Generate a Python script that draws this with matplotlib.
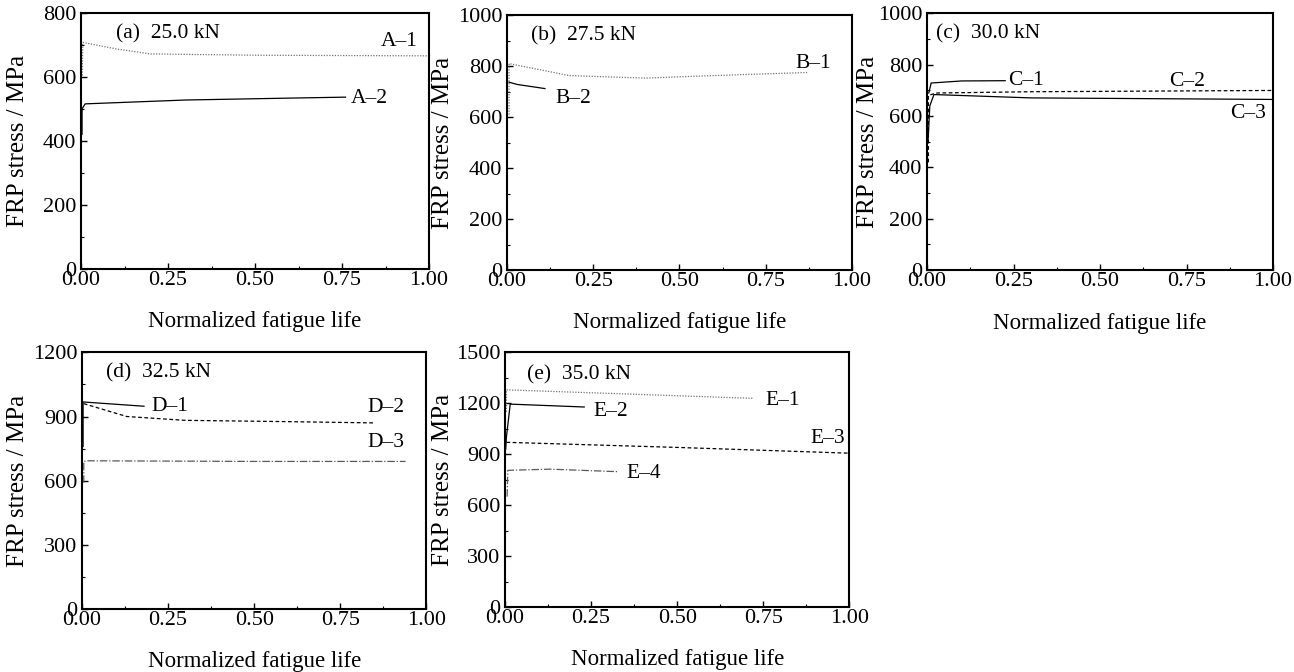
import matplotlib
matplotlib.use('Agg')
import matplotlib.pyplot as plt
from matplotlib.ticker import MultipleLocator

plt.rcParams['font.family'] = ['Liberation Serif', 'DejaVu Serif']

# ---- data (normalized life, FRP stress MPa) ----
A1_x = [0.004, 0.005, 0.10, 0.20, 0.50, 1.00]
A1_y = [605, 708, 688, 672, 668, 666]
A2_x = [0.003, 0.003, 0.012, 0.30, 0.60, 0.76]
A2_y = [421, 500, 516, 528, 534, 537]

B1_x = [0.006, 0.006, 0.18, 0.40, 0.60, 0.87]
B1_y = [610, 810, 763, 753, 763, 775]
B2_x = [0.006, 0.03, 0.11]
B2_y = [737, 728, 712]

C1_x = [0.005, 0.012, 0.10, 0.226]
C1_y = [690, 729, 737, 738]
C2_x = [0.004, 0.004, 0.025, 0.30, 1.00]
C2_y = [420, 680, 690, 695, 700]
C3_x = [0.003, 0.008, 0.02, 0.30, 1.00]
C3_y = [500, 640, 684, 671, 665]

D1_x = [0.003, 0.003, 0.18]
D1_y = [760, 968, 948]
D2_x = [0.005, 0.13, 0.30, 0.60, 0.85]
D2_y = [960, 900, 882, 876, 870]
D3_x = [0.005, 0.005, 0.015, 0.50, 0.94]
D3_y = [590, 690, 693, 690, 690]

E1_x = [0.004, 0.004, 0.72]
E1_y = [1150, 1279, 1229]
E2_x = [0.002, 0.004, 0.015, 0.23]
E2_y = [930, 1000, 1195, 1178]
E3_x = [0.004, 0.50, 1.00]
E3_y = [970, 940, 906]
E4_x = [0.006, 0.008, 0.13, 0.33]
E4_y = [650, 805, 812, 797]

SOLID = dict(color='black', linewidth=0.9, linestyle='-')
DOT = dict(color='0.45', linewidth=0.9, linestyle=(0, (1, 1.2)))
DASH = dict(color='black', linewidth=0.9, linestyle=(0, (3, 2)))
DASHDOT = dict(color='0.35', linewidth=0.9, linestyle=(0, (6, 1.5, 1, 1.5)))

FS_TICK, FS_TEXT, FS_LABEL = 16, 15.5, 16.5

PANELS = [
    # (rect, title, title pos, ymax, ymajor, ylabel x, series, labels)
    ([0.0626, 0.5997, 0.269, 0.381], '(a)  25.0 kN', (0.10, 0.92), 800, 200, -0.15,
     [(A1_x, A1_y, DOT), (A2_x, A2_y, SOLID)],
     [(0.86, 710, 'A–1'), (0.775, 532, 'A–2')]),
    ([0.3918, 0.598, 0.2666, 0.3795], '(b)  27.5 kN', (0.07, 0.92), 1000, 200, -0.155,
     [(B1_x, B1_y, DOT), (B2_x, B2_y, SOLID)],
     [(0.835, 812, 'B–1'), (0.14, 675, 'B–2')]),
    ([0.7164, 0.598, 0.2674, 0.382], '(c)  30.0 kN', (0.025, 0.92), 1000, 200, -0.14,
     [(C1_x, C1_y, SOLID), (C2_x, C2_y, DASH), (C3_x, C3_y, SOLID)],
     [(0.234, 739, 'C–1'), (0.70, 733, 'C–2'), (0.876, 611, 'C–3')]),
    ([0.0634, 0.0937, 0.266, 0.382], '(d)  32.5 kN', (0.07, 0.92), 1200, 300, -0.153,
     [(D1_x, D1_y, SOLID), (D2_x, D2_y, DASH), (D3_x, D3_y, DASHDOT)],
     [(0.203, 948, 'D–1'), (0.83, 942, 'D–2'), (0.83, 780, 'D–3')]),
    ([0.3903, 0.0967, 0.266, 0.379], '(e)  35.0 kN', (0.063, 0.91), 1500, 300, -0.147,
     [(E1_x, E1_y, DOT), (E2_x, E2_y, SOLID), (E3_x, E3_y, DASH), (E4_x, E4_y, DASHDOT)],
     [(0.756, 1218, 'E–1'), (0.256, 1149, 'E–2'), (0.887, 994, 'E–3'), (0.352, 788, 'E–4')]),
]

fig = plt.figure(figsize=(12.94, 6.72), dpi=100)

for rect, title, tpos, ymax, ymaj, ylab_x, series, labels in PANELS:
    ax = fig.add_axes(rect)
    for xs, ys, style in series:
        ax.plot(xs, ys, **style)
    for x, y, txt in labels:
        ax.text(x, y, txt, ha='left', va='center', fontsize=FS_TEXT)
    ax.text(tpos[0], tpos[1], title, transform=ax.transAxes, ha='left', va='center',
            fontsize=FS_TEXT)
    ax.set_xlim(0, 1)
    ax.set_ylim(0, ymax)
    ax.xaxis.set_major_locator(MultipleLocator(0.25))
    ax.xaxis.set_minor_locator(MultipleLocator(0.125))
    ax.yaxis.set_major_locator(MultipleLocator(ymaj))
    ax.yaxis.set_minor_locator(MultipleLocator(ymaj / 2))
    ax.xaxis.set_major_formatter(lambda v, p: '%.2f' % v)
    ax.tick_params(which='both', direction='in', labelsize=FS_TICK)
    ax.tick_params(axis='x', pad=1.5)
    ax.tick_params(axis='y', pad=3.5)
    ax.tick_params(which='major', length=4, width=1)
    ax.tick_params(which='minor', length=2.5, width=0.8)
    for s in ax.spines.values():
        s.set_linewidth(1.5)
    ax.set_xlabel('Normalized fatigue life', fontsize=FS_LABEL, va='top')
    ax.xaxis.set_label_coords(0.5, -0.165)
    ax.set_ylabel('FRP stress / MPa', fontsize=FS_LABEL + 1.5)
    ax.yaxis.set_label_coords(ylab_x, 0.5)

fig.savefig('out.png', dpi=100, facecolor='white')
